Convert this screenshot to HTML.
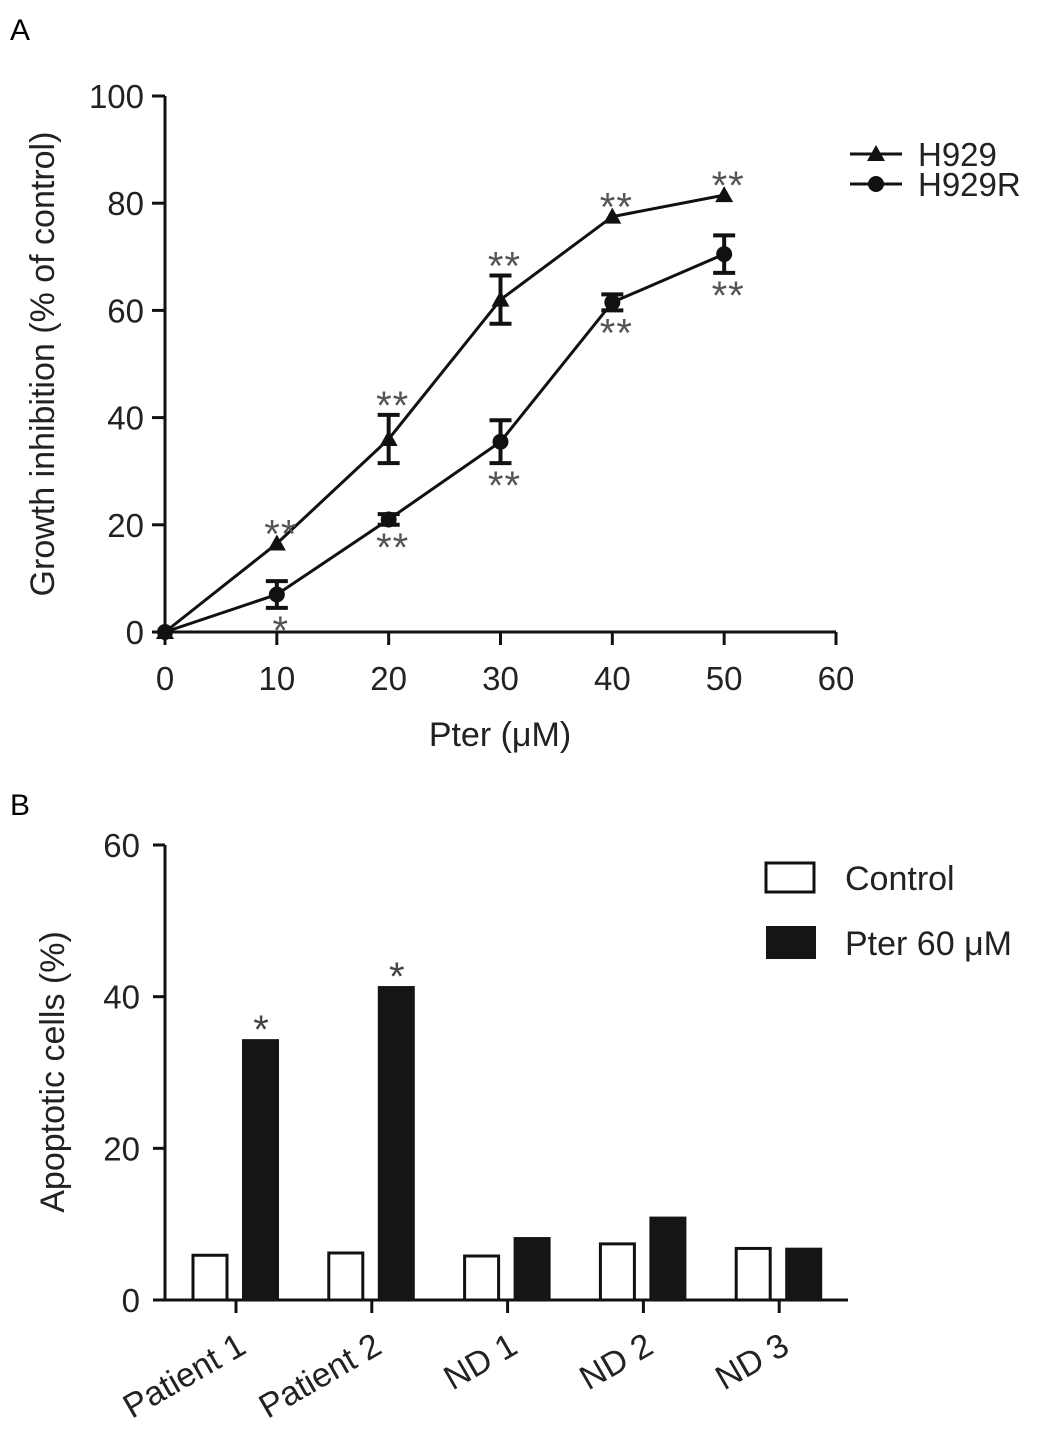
<!DOCTYPE html>
<html><head><meta charset="utf-8"><style>
body{margin:0;background:#fff}
svg{display:block;font-family:"Liberation Sans",Arial,sans-serif}
</style></head><body>
<svg id="fig" width="1048" height="1440" viewBox="0 0 1048 1440">
<text x="10" y="40" font-size="30">A</text>
<text x="10" y="815" font-size="30">B</text>
<g id="pa"></g>
<g id="pb"></g>
</svg>
<script>
const doses=[0,10,20,30,40,50];
const h929=[0,16.5,36,62,77.5,81.5];
const h929Err=[0,0,4.5,4.5,0,0];
const h929Sig=["","**","**","**","**","**"];
const h929r=[0,7,21,35.5,61.5,70.5];
const h929rErr=[0,2.5,1,4,1.5,3.5];
const h929rSig=["","*","**","**","**","**"];
const xTicksA=[0,10,20,30,40,50,60];
const yTicksA=[0,20,40,60,80,100];

const categories=["Patient 1","Patient 2","ND 1","ND 2","ND 3"];
const controlVals=[5.9,6.2,5.8,7.4,6.8];
const pterVals=[34.4,41.4,8.3,11,6.9];
const pterSig=["*","*","","",""];
const yTicksB=[0,20,40,60];

const NS="http://www.w3.org/2000/svg";
function mk(parent,tag,attrs,txt){const e=document.createElementNS(NS,tag);for(const k in attrs)e.setAttribute(k,attrs[k]);if(txt!==undefined)e.textContent=txt;parent.appendChild(e);return e;}

// Panel A
const pa=document.getElementById('pa');
const xA=v=>165+v*(836-165)/60;
const yA=v=>632-v*(632-96)/100;
mk(pa,'line',{x1:165,y1:96,x2:165,y2:632,stroke:'#111','stroke-width':3});
mk(pa,'line',{x1:165,y1:632,x2:836,y2:632,stroke:'#111','stroke-width':3});
yTicksA.forEach(t=>{
  const l=mk(pa,'line',{x1:152,y1:yA(t),x2:165,y2:yA(t),stroke:'#111','stroke-width':3});
  
  const tx=mk(pa,'text',{x:144,y:yA(t)+12,'font-size':33,'text-anchor':'end',fill:'#222'},t);
  
});
xTicksA.forEach(t=>{
  const l=mk(pa,'line',{x1:xA(t),y1:632,x2:xA(t),y2:645,stroke:'#111','stroke-width':3});
  
  const tx=mk(pa,'text',{x:xA(t),y:690,'font-size':33,'text-anchor':'middle',fill:'#222'},t);
  
});
let t1=mk(pa,'text',{x:500,y:746,'font-size':34,'text-anchor':'middle',fill:'#222'},'Pter (μM)');

let t2=mk(pa,'text',{x:0,y:0,'font-size':34,'text-anchor':'middle',fill:'#222',transform:'translate(54,364) rotate(-90)'},'Growth inhibition (% of control)');


function series(vals,errs,sig,marker,name,below){
  const g=mk(pa,'g',{});
  
  const pl=mk(g,'polyline',{points:doses.map((d,i)=>xA(d)+','+yA(vals[i])).join(' '),fill:'none',stroke:'#111','stroke-width':3});
  
  doses.forEach((d,i)=>{
    const cx=xA(d),cy=yA(vals[i]);
    if(errs[i]>0){
      const e1=yA(vals[i]+errs[i]),e2=yA(vals[i]-errs[i]);
      const eb=mk(g,'path',{d:`M${cx},${e1}V${e2}M${cx-11},${e1}H${cx+11}M${cx-11},${e2}H${cx+11}`,stroke:'#111','stroke-width':4,fill:'none'});
      
    }
    let m;
    if(marker==='tri') m=mk(g,'polygon',{points:`${cx},${cy-9} ${cx-9},${cy+7} ${cx+9},${cy+7}`,fill:'#111'});
    else m=mk(g,'circle',{cx:cx,cy:cy,r:8,fill:'#111'});
    
    if(sig[i]){
      const top=yA(vals[i]+errs[i]),bot=yA(vals[i]-errs[i]);
      const sy=below?bot+36:top+4;
      const s=mk(g,'text',{x:cx+4,y:sy,'font-size':40,'text-anchor':'middle',fill:'#555','letter-spacing':'1'},sig[i]);
      
    }
  });
}
series(h929,h929Err,h929Sig,'tri','series-h929',false);
series(h929r,h929rErr,h929rSig,'circ','series-h929r',true);
// legend A
const la=mk(pa,'g',{});
mk(la,'line',{x1:850,y1:154,x2:902,y2:154,stroke:'#111','stroke-width':3});
mk(la,'polygon',{points:'876,145 867,161 885,161',fill:'#111'});
let l1=mk(la,'text',{x:918,y:166,'font-size':33,fill:'#222'},'H929');
mk(la,'line',{x1:850,y1:184,x2:902,y2:184,stroke:'#111','stroke-width':3});
mk(la,'circle',{cx:876,cy:184,r:8,fill:'#111'});
let l2=mk(la,'text',{x:918,y:196,'font-size':33,fill:'#222'},'H929R');

// Panel B
const pb=document.getElementById('pb');
const yB=v=>1300-v*(1300-845)/60;
const catX=i=>236+i*135.8;
mk(pb,'line',{x1:165,y1:845,x2:165,y2:1300,stroke:'#111','stroke-width':3});
mk(pb,'line',{x1:155,y1:1300,x2:848,y2:1300,stroke:'#111','stroke-width':3});
yTicksB.forEach(t=>{
  const l=mk(pb,'line',{x1:153,y1:yB(t),x2:165,y2:yB(t),stroke:'#111','stroke-width':3});
  
  const tx=mk(pb,'text',{x:140,y:yB(t)+12,'font-size':33,'text-anchor':'end',fill:'#222'},t);
  
});
let t3=mk(pb,'text',{x:0,y:0,'font-size':34,'text-anchor':'middle',fill:'#222',transform:'translate(64,1072) rotate(-90)'},'Apoptotic cells (%)');

categories.forEach((c,i)=>{
  const cx=catX(i);
  const tk=mk(pb,'line',{x1:cx,y1:1300,x2:cx,y2:1313,stroke:'#111','stroke-width':3});
  
  const lb=mk(pb,'text',{x:0,y:0,'font-size':34,'text-anchor':'end',fill:'#222',transform:`translate(${cx+12},1352) rotate(-30)`},c);
  
  const b1=mk(pb,'rect',{x:cx-43,y:yB(controlVals[i]),width:34,height:yB(0)-yB(controlVals[i]),fill:'#fff',stroke:'#111','stroke-width':3});
  
  const b2=mk(pb,'rect',{x:cx+6,y:yB(pterVals[i]),width:37,height:yB(0)-yB(pterVals[i]),fill:'#151515'});
  
  if(pterSig[i]){
    const s=mk(pb,'text',{x:cx+25,y:yB(pterVals[i])+4,'font-size':40,'text-anchor':'middle',fill:'#444'},pterSig[i]);
    
  }
});
const lg=mk(pb,'g',{});
mk(lg,'rect',{x:766,y:863,width:48,height:29,fill:'#fff',stroke:'#111','stroke-width':3});
let l3=mk(lg,'text',{x:845,y:890,'font-size':34,fill:'#222'},'Control');
mk(lg,'rect',{x:766,y:926,width:50,height:33,fill:'#151515'});
let l4=mk(lg,'text',{x:845,y:955,'font-size':34,fill:'#222'},'Pter 60 μM');
</script>
</body></html>
